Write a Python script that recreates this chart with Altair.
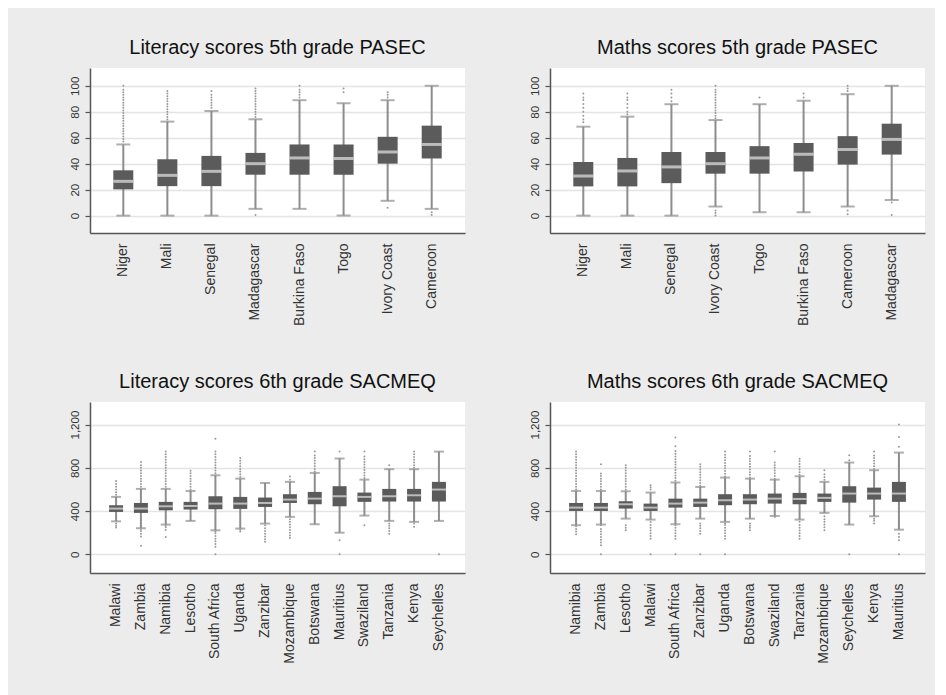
import altair as alt
import pandas as pd

FONT = "Liberation Sans"

# ---------------- Literacy scores 5th grade PASEC ----------------
lp_countries = ["Niger", "Mali", "Senegal", "Madagascar", "Burkina Faso", "Togo", "Ivory Coast", "Cameroon"]
lp_lo = [0, 0, 0, 5.2, 5.2, 0, 11.4, 5.2]
lp_q1 = [20.2, 22.7, 22.7, 31.5, 31.5, 31.5, 40, 44]
lp_med = [26.4, 31, 34.1, 40, 44.4, 44, 49, 54.8]
lp_q3 = [34.9, 43.4, 46, 48.3, 54.8, 54.8, 60.7, 69.3]
lp_hi = [54.8, 72.4, 80.6, 74.2, 88.9, 86.6, 88.9, 100]
lp_out = [
    [57, 59, 61, 63, 65, 67, 69, 71, 73, 75, 77, 79, 81, 83, 85, 87, 89, 91, 93, 95, 97, 100],
    [74, 76, 78, 80, 82, 84, 86, 88, 90, 92, 94, 96],
    [83, 85, 87, 89, 91, 93, 96],
    [0.5, 76, 78, 80, 82, 84, 86, 88, 90, 92, 94, 96, 98],
    [91, 93, 95, 97, 100],
    [95, 98],
    [6, 91, 93, 95],
    [0.5, 2.6],
]

# ---------------- Maths scores 5th grade PASEC ----------------
mp_countries = ["Niger", "Mali", "Senegal", "Ivory Coast", "Togo", "Burkina Faso", "Cameroon", "Madagascar"]
mp_lo = [0, 0, 0, 7, 2.6, 2.6, 7, 12]
mp_q1 = [22.5, 22.5, 25, 32.3, 32.3, 34, 39.3, 47]
mp_med = [30.5, 34.4, 37.5, 40, 44.4, 47.3, 50.9, 58.7]
mp_q3 = [41.3, 44.4, 49, 49, 53.5, 56, 61.2, 70.8]
mp_hi = [68.5, 76.2, 85.8, 73.6, 85.8, 88.4, 93.5, 100]
mp_out = [
    [72, 74, 77, 80, 83, 86, 89, 91, 94],
    [78, 80, 83, 86, 89, 91, 94],
    [88, 91, 94, 97],
    [0, 2, 4, 75, 77, 79, 81, 83, 85, 87, 89, 91, 93, 95, 97, 100],
    [91],
    [91, 94],
    [1, 4, 96, 98, 100],
    [0.5, 10],
]

# ---------------- Literacy scores 6th grade SACMEQ ----------------
ls_countries = ["Malawi", "Zambia", "Namibia", "Lesotho", "South Africa", "Uganda", "Zanzibar",
                "Mozambique", "Botswana", "Mauritius", "Swaziland", "Tanzania", "Kenya", "Seychelles"]
ls_lo = [305, 241, 275, 309, 222, 238, 284, 346, 278, 200, 358, 309, 300, 309]
ls_q1 = [392, 383, 407, 414, 417, 420, 438, 475, 463, 444, 485, 488, 488, 488]
ls_med = [423, 423, 444, 447, 469, 469, 475, 506, 515, 537, 531, 537, 546, 599]
ls_q3 = [454, 475, 485, 485, 537, 531, 525, 556, 577, 630, 571, 605, 605, 670]
ls_hi = [531, 605, 605, 586, 731, 700, 660, 670, 753, 886, 691, 787, 787, 950]
ls_out = [
    [247, 265, 285, 550, 575, 600, 625, 650, 679],
    [80, 165, 190, 215, 235, 625, 650, 675, 700, 725, 750, 775, 800, 825, 855],
    [160, 225, 250, 265, 625, 650, 675, 700, 725, 750, 775, 800, 825, 850, 875, 900, 925, 950],
    [600, 625, 650, 675, 700, 725, 750, 772],
    [0, 70, 95, 120, 145, 170, 195, 210, 750, 775, 800, 825, 850, 875, 900, 925, 950, 1070],
    [210, 228, 715, 740, 765, 790, 815, 840, 865, 890],
    [115, 140, 165, 190, 215, 240, 268],
    [150, 175, 200, 225, 250, 275, 300, 325, 690, 720],
    [765, 790, 815, 840, 865, 890, 915, 950],
    [0, 130, 950],
    [268, 705, 730, 755, 780, 805, 830, 855, 880, 905, 950],
    [190, 215, 240, 265, 285, 824],
    [255, 284, 800, 825, 850, 875, 900, 925, 950],
    [0],
]

# ---------------- Maths scores 6th grade SACMEQ ----------------
ms_countries = ["Namibia", "Zambia", "Lesotho", "Malawi", "South Africa", "Zanzibar", "Uganda",
                "Botswana", "Swaziland", "Tanzania", "Mozambique", "Seychelles", "Kenya", "Mauritius"]
ms_lo = [269, 275, 330, 321, 278, 330, 300, 330, 355, 321, 383, 275, 352, 228]
ms_q1 = [401, 401, 423, 401, 432, 438, 454, 463, 469, 463, 485, 478, 506, 485]
ms_med = [432, 432, 463, 432, 469, 478, 500, 506, 515, 512, 522, 562, 562, 562]
ms_q3 = [475, 475, 491, 469, 515, 515, 556, 556, 562, 568, 562, 630, 617, 670]
ms_hi = [586, 586, 583, 571, 664, 623, 710, 700, 691, 722, 670, 849, 778, 941]
ms_out = [
    [185, 210, 235, 259, 600, 625, 650, 675, 700, 725, 750, 775, 800, 825, 850, 875, 900, 925, 950],
    [0, 83, 110, 135, 160, 185, 210, 235, 268, 600, 625, 650, 675, 700, 725, 747, 833],
    [222, 245, 268, 600, 625, 650, 675, 700, 725, 750, 775, 800, 824],
    [0, 145, 170, 195, 220, 245, 270, 299, 600, 620, 639],
    [0, 145, 170, 195, 220, 245, 268, 680, 705, 730, 755, 780, 805, 830, 855, 880, 905, 930, 955, 1000, 1080],
    [0, 191, 215, 240, 265, 284, 635, 660, 685, 710, 735, 760, 785, 810, 833],
    [0, 145, 170, 195, 220, 245, 270, 284, 720, 745, 770, 795, 820, 845, 870, 895, 920, 950],
    [222, 245, 265, 284, 710, 735, 760, 785, 810, 835, 860, 885, 910, 950],
    [345, 700, 725, 750, 775, 800, 825, 850, 950],
    [145, 170, 195, 220, 245, 270, 300, 735, 760, 785, 810, 835, 860, 885],
    [222, 250, 275, 300, 325, 352, 690, 715, 740, 778],
    [0, 870, 916],
    [284, 310, 330, 790, 815, 840, 865, 890, 915, 950],
    [0, 130, 160, 191, 994, 1086, 1200],
]

BOX = "#5b5b5b"
WHISK = "#8d8d8d"
MEDC = "#e4e4e4"
DOT = "#9a9a9a"
AXC = "#555555"


def panel(title, countries, lo, q1, med, q3, hi, out, ydomain, yvalues, yfmt, height,
          box_w, cap_w, pad_outer, med_th):
    df = pd.DataFrame({"country": countries, "lo": lo, "q1": q1, "med": med, "q3": q3, "hi": hi})
    odf = pd.DataFrame([{"country": c, "v": v} for c, vals in zip(countries, out) for v in vals])
    xenc = alt.X("country:N", sort=countries,
                 scale=alt.Scale(domain=countries, paddingInner=0, paddingOuter=pad_outer),
                 axis=alt.Axis(title=None, labelAngle=-90, labelFontSize=14, labelColor="#333333",
                               labelFont=FONT, ticks=False, domainColor=AXC, domainWidth=1.5,
                               labelPadding=10, grid=False))
    yscale = alt.Scale(domain=ydomain, nice=False, zero=False)
    yaxis = alt.Axis(title=None, values=yvalues, format=yfmt, labelAngle=-90, labelFontSize=11.5,
                     labelColor="#333333", labelFont=FONT, tickSize=5, tickColor=AXC, tickWidth=1.2,
                     domainColor=AXC, domainWidth=1.5, grid=True, gridColor="#e4e4e4",
                     gridWidth=1.5, labelPadding=5, labelOverlap=False, labelBound=False,
                     labelFlush=False)

    def Y(field):
        return alt.Y(field, type="quantitative", scale=yscale, axis=yaxis)

    base = alt.Chart(df)
    whisk = base.mark_rule(color=WHISK, strokeWidth=2).encode(x=xenc, y=Y("lo"), y2="hi:Q")
    cap_lo = base.mark_tick(color=WHISK, size=cap_w, thickness=2).encode(x=xenc, y=Y("lo"))
    cap_hi = base.mark_tick(color=WHISK, size=cap_w, thickness=2).encode(x=xenc, y=Y("hi"))
    box = base.mark_bar(color=BOX, size=box_w).encode(x=xenc, y=Y("q1"), y2="q3:Q")
    medm = base.mark_tick(color=MEDC, size=box_w, thickness=med_th).encode(x=xenc, y=Y("med"))
    dots = alt.Chart(odf).mark_circle(color=DOT, size=4, opacity=1).encode(x=xenc, y=Y("v"))
    return alt.layer(whisk, cap_lo, cap_hi, dots, box, medm).properties(
        width=375, height=height,
        title=alt.TitleParams(title, fontSize=20, fontWeight="normal", font=FONT, color="#111111",
                              anchor="middle", frame="group", offset=10))


p1 = panel("Literacy scores 5th grade PASEC", lp_countries, lp_lo, lp_q1, lp_med, lp_q3, lp_hi, lp_out,
           [-13.4, 113.7], [0, 20, 40, 60, 80, 100], "d", 165, 20, 14, 0.256, 3)
p2 = panel("Maths scores 5th grade PASEC", mp_countries, mp_lo, mp_q1, mp_med, mp_q3, mp_hi, mp_out,
           [-13.4, 113.7], [0, 20, 40, 60, 80, 100], "d", 165, 20, 14, 0.256, 3)
p3 = panel("Literacy scores 6th grade SACMEQ", ls_countries, ls_lo, ls_q1, ls_med, ls_q3, ls_hi, ls_out,
           [-173, 1409], [0, 400, 800, 1200], ",.0f", 171, 14, 10, 0.55, 2)
p4 = panel("Maths scores 6th grade SACMEQ", ms_countries, ms_lo, ms_q1, ms_med, ms_q3, ms_hi, ms_out,
           [-173, 1409], [0, 400, 800, 1200], ",.0f", 171, 14, 10, 0.55, 2)

row1 = alt.hconcat(p1, p2, spacing=63)
row2 = alt.hconcat(p3, p4, spacing=63)
chart = alt.vconcat(row1, row2, spacing=46).properties(
    background="#ececec",
    padding={"left": 60, "top": 30, "right": 10, "bottom": 36},
).configure_view(stroke=None, fill="white")

chart.save("out.html", embed_options={"renderer": "svg", "actions": False})
